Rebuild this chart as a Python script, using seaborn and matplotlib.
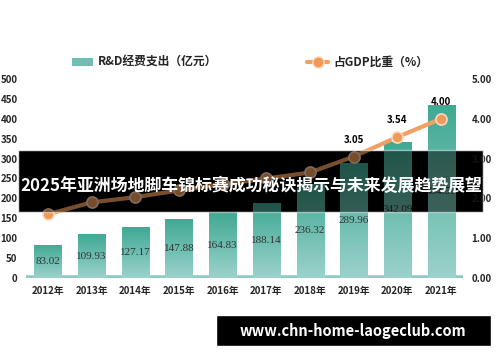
import matplotlib
matplotlib.use("Agg")
import matplotlib.pyplot as plt
import numpy as np
import pandas as pd
import seaborn as sns
from matplotlib.patches import Rectangle, Patch
from matplotlib.lines import Line2D
from matplotlib.colors import LinearSegmentedColormap

years = ["2012年", "2013年", "2014年", "2015年", "2016年", "2017年", "2018年", "2019年", "2020年", "2021年"]
spend = [83.02, 109.93, 127.17, 147.88, 164.83, 188.14, 236.32, 289.96, 342.09, 434.50]
gdp_share = [1.60, 1.90, 2.03, 2.20, 2.35, 2.50, 2.65, 3.05, 3.54, 4.00]
line_labels = ["", "", "", "", "", "", "", "3.05", "3.54", "4.00"]
left_ticks = [0, 50, 100, 150, 200, 250, 300, 350, 400, 450, 500]
right_ticks = [0, 1, 2, 3, 4, 5]

sns.set_style("white")
plt.rcParams['font.family'] = ['Noto Sans CJK SC', 'DejaVu Sans']

df = pd.DataFrame({"year": years, "spend": spend, "share": gdp_share})

fig = plt.figure(figsize=(5, 3.62), dpi=100)
fig.patch.set_facecolor("white")
ax = fig.add_axes([0.052, 0.232, 0.874, 0.55])
ax.patch.set_alpha(0)

# black banner behind the chart (background part)
fig.patches.append(Rectangle((18 / 500, 1 - 212 / 362), 465 / 500, 62 / 362,
                             transform=fig.transFigure, facecolor="black", zorder=-1))

sns.barplot(data=df, x="year", y="spend", ax=ax, width=0.62, color="#4fb09e", zorder=2)

# gradient fill for bars
cmap = LinearSegmentedColormap.from_list("g", ["#9cd2cc", "#3fa993"])
grad = np.linspace(0, 1, 256).reshape(-1, 1)
for p in ax.patches:
    x0, y0 = p.get_x(), p.get_y()
    w, h = p.get_width(), p.get_height()
    im = ax.imshow(grad, cmap=cmap, origin="lower", aspect="auto",
                   extent=[x0, x0 + w, y0, y0 + h], zorder=2)
    im.set_clip_path(p)
    p.set_facecolor("none")
    p.set_edgecolor("none")

for i, v in enumerate(spend):
    ax.text(i, v / 2, f"{v:.2f}", ha="center", va="center", fontsize=8,
            family="Liberation Serif", color="#333333", zorder=3)

ax.set_xlim(-0.5, 9.5)
ax.set_ylim(0, 500)
ax.set_yticks(left_ticks)
ax.set_yticklabels([str(t) for t in left_ticks], fontsize=7, fontweight="bold")
ax.set_xlabel("")
ax.set_ylabel("")
ax.tick_params(axis="x", labelsize=7, length=0, pad=6)
ax.tick_params(axis="y", length=0, pad=6)
for lab in ax.get_xticklabels():
    lab.set_fontweight("bold")
for s in ax.spines.values():
    s.set_visible(False)
ax.axhline(0, color="#8fcbc4", linewidth=4, zorder=1)

ax2 = ax.twinx()
sns.lineplot(data=df, x="year", y="share", ax=ax2, color="#f0a060", linewidth=3,
             marker="o", markersize=8, markerfacecolor="#f09a58",
             markeredgecolor="#fbd9c0", markeredgewidth=1.2, zorder=4)
for i, (v, t) in enumerate(zip(gdp_share, line_labels)):
    if t:
        ax2.text(i, v + 0.3, t, ha="center", va="bottom", fontsize=7,
                 fontweight="bold", color="black")
ax2.set_ylim(0, 5)
ax2.set_yticks(right_ticks)
ax2.set_yticklabels([f"{t:.2f}" for t in right_ticks], fontsize=7, fontweight="bold")
ax2.set_ylabel("")
ax2.tick_params(axis="y", length=0, pad=6)
for s in ax2.spines.values():
    s.set_visible(False)

handles = [Patch(facecolor="#6cbfb1", edgecolor="none"),
           Line2D([0], [0], color="#f0a060", linewidth=3, marker="o",
                  markerfacecolor="#f09a58", markeredgecolor="#fbd9c0", markersize=8)]
fig.legend(handles, ["R&D经费支出（亿元）", "占GDP比重（%）"], ncol=2, frameon=False,
           loc="center", bbox_to_anchor=(0.5, 0.828), columnspacing=7.6,
           prop={"family": ["Noto Sans CJK SC", "DejaVu Sans"], "weight": "bold", "size": 8.5},
           handlelength=1.8, handletextpad=0.4)

# dark overlay banner with title
fig.patches.append(Rectangle((18 / 500, 1 - 212 / 362), 465 / 500, 62 / 362,
                             transform=fig.transFigure, facecolor="black", alpha=0.5, zorder=10))
fig.text(251 / 500, 1 - 186 / 362, "2025年亚洲场地脚车锦标赛成功秘诀揭示与未来发展趋势展望",
         ha="center", va="center", color="white", fontsize=12.2, fontweight="bold", zorder=11)

fig.patches.append(Rectangle((216 / 500, 1 - 346 / 362), 275 / 500, 31 / 362,
                             transform=fig.transFigure, facecolor="black", zorder=10))
fig.text(353 / 500, 1 - 331 / 362, "www.chn-home-laogeclub.com", ha="center", va="center",
         color="white", fontsize=10.5, fontweight="bold", zorder=11)

fig.savefig("out.png", dpi=100)
